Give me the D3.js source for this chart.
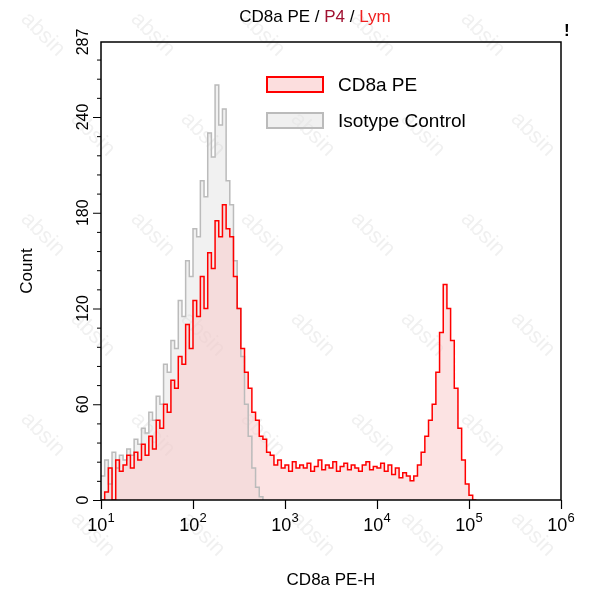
<!DOCTYPE html>
<html><head><meta charset="utf-8">
<script src="https://cdn.jsdelivr.net/npm/d3@7"></script>
<style>body{margin:0;background:#fff}text{font-family:"Liberation Sans",Arial,sans-serif}</style>
</head><body><svg id="c" width="593" height="600"></svg>
<script>
var xStart = 1.0, xStep = 0.04;
var cd8Counts = [0,5,20,0,25,18,
  22,28,20,30,25,35,28,
  40,32,50,45,60,55,75,
  70,90,85,110,95,125,115,
  140,120,155,145,175,165,185,
  170,165,140,120,95,80,70,
  55,50,40,38,30,28,22,
  25,20,22,18,24,20,22,
  20,23,18,21,25,19,22,20,24,18,21,23,19,22,20,18,22,24,19,21,20,23,18,22,16,20,14,17,15,
  12,15,22,30,40,50,
  60,80,105,135,120,100,70,45,25,10,3,0,0];
var isoCounts = [15,25,10,30,20,28,25,
  32,28,38,35,45,42,55,
  50,65,60,85,80,100,95,
  125,115,150,140,170,165,200,
  190,230,215,260,235,245,200,
  185,150,120,90,60,40,20,
  8,2,0];
var yTicks = [0,60,120,180,240,287];
var xDecades = [1,2,3,4,5,6];

var svg = d3.select("#c");
var L=101, R=561, T=42, B=500;
var x = d3.scaleLog().domain([10,1e6]).range([L,R]);
var y = d3.scaleLinear().domain([0,287]).range([B,T]);

function pts(arr){ return arr.map(function(v,i){ return [Math.pow(10,xStart+i*xStep), v]; }); }
var area = d3.area().x(function(d){return x(d[0]);}).y0(B).y1(function(d){return y(d[1]);}).curve(d3.curveStepAfter);
var line = d3.line().x(function(d){return x(d[0]);}).y(function(d){return y(d[1]);}).curve(d3.curveStepAfter);

// watermark, only where it fits fully
var wm = svg.append("g").attr("fill","#000").attr("opacity",0.06).attr("font-size",22);
for (var r=0;r<6;r++) for (var c=0;c<5;c++) {
  var wx = 20+c*110+(r%2)*50, wy = 20+r*100;
  if (wx > 530 || wy > 540) continue;
  wm.append("text").attr("transform","translate("+wx+","+wy+") rotate(45)").text("absin");
}

svg.append("defs").append("clipPath").attr("id","pc").append("rect").attr("x",L).attr("y",T).attr("width",R-L).attr("height",B-T);
var g = svg.append("g").attr("clip-path","url(#pc)");
g.append("path").datum(pts(isoCounts)).attr("d",area).attr("fill","rgba(200,200,200,0.25)");
g.append("path").datum(pts(cd8Counts)).attr("d",area).attr("fill","rgba(250,200,200,0.5)");
g.append("path").datum(pts(isoCounts)).attr("d",line).attr("fill","none").attr("stroke","#bbb").attr("stroke-width",1.5);
g.append("path").datum(pts(cd8Counts)).attr("d",line).attr("fill","none").attr("stroke","#f00").attr("stroke-width",1.5);

svg.append("rect").attr("x",L).attr("y",T).attr("width",R-L).attr("height",B-T).attr("fill","none").attr("stroke","#000").attr("stroke-width",1.5);

// x axis
var xa = svg.append("g").attr("transform","translate(0,"+B+")")
  .call(d3.axisBottom(x).ticks(5).tickFormat("").tickSize(5));
xa.selectAll(".tick line").attr("stroke-width",1.2);
xa.selectAll(".tick").filter(function(d){ return Math.abs(Math.log10(d)-Math.round(Math.log10(d)))<1e-6; }).select("line").attr("y2",9);
xa.select(".domain").remove();
xDecades.forEach(function(p){
  var t = svg.append("text").attr("x",x(Math.pow(10,p))).attr("y",B+31).attr("text-anchor","middle").attr("font-size",18);
  t.append("tspan").text("10");
  t.append("tspan").attr("dy",-9).attr("font-size",13).text(p);
});
// y axis
var ya = svg.append("g").attr("transform","translate("+L+",0)")
  .call(d3.axisLeft(y).tickValues(d3.range(0,288,12)).tickFormat("").tickSize(4));
ya.select(".domain").remove();
ya.selectAll(".tick").filter(function(d){return d%60===0;}).select("line").attr("x2",-8);
yTicks.forEach(function(v){
  svg.append("text").attr("transform","translate("+(L-13)+","+y(v)+") rotate(-90)").attr("text-anchor","middle").attr("font-size",16).text(v);
});
svg.append("text").attr("transform","translate(32,"+((T+B)/2)+") rotate(-90)").attr("text-anchor","middle").attr("font-size",17).text("Count");
svg.append("text").attr("x",(L+R)/2).attr("y",585).attr("text-anchor","middle").attr("font-size",17).text("CD8a PE-H");

var title = svg.append("text").attr("x",315).attr("y",22).attr("text-anchor","middle").attr("font-size",17);
title.append("tspan").text("CD8a PE / ");
title.append("tspan").attr("fill","#a01030").text("P4");
title.append("tspan").text(" / ");
title.append("tspan").attr("fill","#f02020").text("Lym");
svg.append("text").attr("x",564).attr("y",36).attr("font-size",17).attr("font-weight","bold").text("!");

// legend
var legend = [["CD8a PE","#f00","rgba(250,200,200,0.6)"],["Isotype  Control","#bbb","rgba(225,225,225,0.5)"]];
legend.forEach(function(l,i){
  var yy = 77+i*36;
  svg.append("rect").attr("x",267).attr("y",yy).attr("width",56).attr("height",15).attr("fill",l[2]).attr("stroke",l[1]).attr("stroke-width",2);
  svg.append("text").attr("x",338).attr("y",yy+14).attr("font-size",19).text(l[0]);
});
</script></body></html>
